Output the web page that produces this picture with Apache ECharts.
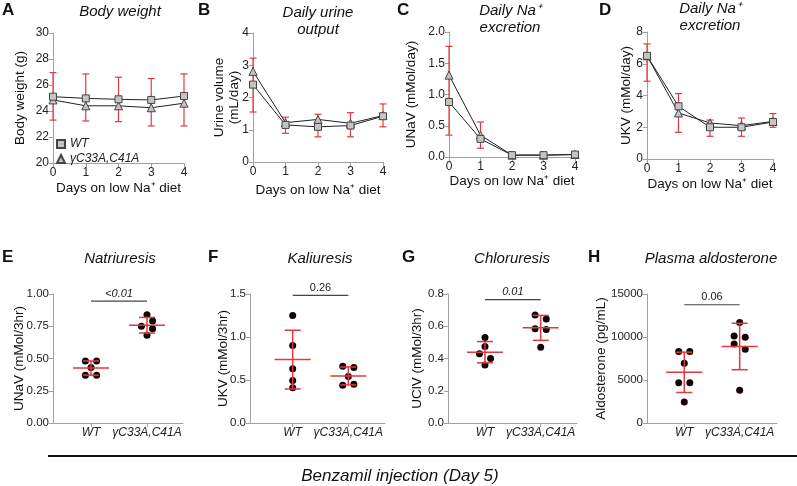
<!DOCTYPE html>
<html>
<head>
<meta charset="utf-8">
<script src="https://cdn.jsdelivr.net/npm/echarts@6/dist/echarts.min.js"></script>
<style>
html, body { margin: 0; padding: 0; background: #fff; }
#chart { width: 797px; height: 486px; }
</style>
</head>
<body>
<div id="chart"></div>
<script>
// ---- data ----
var days = [0, 1, 2, 3, 4];
var groups = ['WT', 'γC33A,C41A'];

// A: body weight (g)
var bwWT = [25.1, 24.97, 24.9, 24.85, 25.15];
var bwKI = [24.85, 24.4, 24.4, 24.25, 24.6];
var bwLo = [23.3, 23.23, 23.18, 22.85, 22.85];
var bwHi = [26.95, 26.85, 26.6, 26.5, 26.85];

// B: urine volume (mL/day)
var uvWT = [2.4, 1.15, 1.09, 1.13, 1.42];
var uvKI = [2.81, 1.22, 1.32, 1.2, 1.44];
var uvLo = [1.55, 0.89, 0.78, 0.78, 1.09];
var uvHi = [3.22, 1.39, 1.48, 1.53, 1.8];

// C: UNaV (mMol/day)
var naWT = [0.88, 0.29, 0.03, 0.03, 0.04];
var naKI = [1.31, 0.35, 0.03, 0.03, 0.04];
var naLo = [0.35, 0.14, null, null, null];
var naHi = [1.77, 0.56, null, null, null];

// D: UKV (mMol/day)
var kWT = [6.5, 3.32, 2.0, 2.0, 2.33];
var kKI = [6.5, 2.9, 2.27, 2.1, 2.37];
var kLo = [4.9, 1.68, 1.43, 1.43, 2.0];
var kHi = [7.25, 4.12, 2.45, 2.58, 2.86];

// E-H: individual animals after benzamil
var natWT = [0.48, 0.48, 0.43, 0.37, 0.37];
var natKI = [0.84, 0.75, 0.79, 0.73, 0.68];
var kalWT = [1.25, 0.90, 0.63, 0.495, 0.41];
var kalKI = [0.66, 0.645, 0.54, 0.44, 0.45];
var chlWT = [0.53, 0.475, 0.43, 0.40, 0.36];
var chlKI = [0.67, 0.645, 0.585, 0.58, 0.47];
var aldWT = [8300, 8300, 6935, 4675, 4675, 2455];
var aldKI = [11690, 10130, 9970, 9200, 8570, 3820];

// p values and bar heights
var sigText = ['<0.01', '0.26', '0.01', '0.06'];
var sigY = [0.945, 1.485, 0.765, 13750];

// ---- layout / style ----
var FONT = '"Liberation Sans", Arial, sans-serif';
var RED = '#e0393e';
var AXIS = '#a0a0a0';
var JIT = 0.1;
// horizontal scatter of dots (units of -1/0/1)
var jitE = [[-1, 1, 0, -1, 1], [0, -1, 1, 1, 0]];
var jitF = [[0, 0, 0, 0, 0], [-1, 1, 0, -1, 1]];
var jitG = [[0, 0, -1, 1, 0], [-1, 1, -1, 1, 0]];
var jitH = [[-1, 1, 0, -1, 1, 0], [0, -1, 1, -1, 1, 0]];

var grids = [
    { left: 53, top: 33, width: 131, height: 130 },
    { left: 253, top: 33, width: 130, height: 129 },
    { left: 449, top: 32, width: 126, height: 125 },
    { left: 647, top: 32, width: 126, height: 127 },
    { left: 53, top: 294, width: 130, height: 129 },
    { left: 250, top: 294, width: 135, height: 129 },
    { left: 448, top: 294, width: 129, height: 129 },
    { left: 647, top: 294, width: 130, height: 129 }
];

function axisBase(i, fs) {
    return {
        gridIndex: i,
        type: 'value',
        nameMoveOverlap: false,
        axisLine: { show: true, onZero: false, lineStyle: { color: AXIS, width: 1 } },
        axisTick: { show: true, length: 4, lineStyle: { color: AXIS } },
        axisLabel: { color: '#222', fontSize: fs, fontFamily: FONT, margin: 4 },
        splitLine: { show: false },
        nameTextStyle: { color: '#111', fontSize: 13.5, fontFamily: FONT, lineHeight: 15 }
    };
}

function dayAxis(i, gap) {
    var a = axisBase(i, 12);
    a.min = 0; a.max = 4; a.interval = 1;
    a.name = 'Days on low Na⁺ diet';
    a.nameLocation = 'middle';
    a.nameGap = gap;
    return a;
}

function groupAxis(i, min, max) {
    var a = axisBase(i, 12);
    a.min = min; a.max = max;
    a.axisTick.customValues = [1, 2];
    a.axisLabel.customValues = [1, 2];
    a.axisLabel.fontStyle = 'italic';
    a.axisLabel.formatter = function (v) { return groups[Math.round(v) - 1] || ''; };
    return a;
}

function valAxis(i, min, max, step, name, gap, dec, fs) {
    var a = axisBase(i, fs || 12);
    a.min = min; a.max = max; a.interval = step;
    a.name = name;
    a.nameLocation = 'middle';
    a.nameGap = gap;
    a.axisLabel.formatter = function (v) { return dec == null ? String(v) : v.toFixed(dec); };
    return a;
}

var xAxes = [
    dayAxis(0, 18), dayAxis(1, 21), dayAxis(2, 17), dayAxis(3, 18),
    groupAxis(4, 0.321, 2.643), groupAxis(5, 0.232, 2.66),
    groupAxis(6, 0.336, 2.652), groupAxis(7, 0.327, 2.674)
];
var yAxes = [
    valAxis(0, 20, 30, 2, 'Body weight (g)', 25),
    valAxis(1, 0, 4, 1, 'Urine volume\n(mL/day)', 11),
    valAxis(2, 0, 2, 0.5, 'UNaV (mMol/day)', 30, 1),
    valAxis(3, 0, 8, 2, 'UKV (mMol/day)', 13),
    valAxis(4, 0, 1, 0.25, 'UNaV (mMol/3hr)', 26, 2, 11.5),
    valAxis(5, 0, 1.5, 0.5, 'UKV (mMol/3hr)', 19, 1, 11.5),
    valAxis(6, 0, 0.8, 0.2, 'UClV (mMol/3hr)', 23, 1, 11.5),
    valAxis(7, 0, 15000, 5000, 'Aldosterone (pg/mL)', 38, null, 11.5)
];

// ---- renderers ----
function errItem(params, api) {
    var x = api.value(0);
    var lo = api.coord([x, api.value(1)]);
    var hi = api.coord([x, api.value(2)]);
    var w = 3.5;
    var st = { stroke: RED, lineWidth: 1.2 };
    return {
        type: 'group', children: [
            { type: 'line', shape: { x1: lo[0], y1: lo[1], x2: hi[0], y2: hi[1] }, style: st },
            { type: 'line', shape: { x1: lo[0] - w, y1: lo[1], x2: lo[0] + w, y2: lo[1] }, style: st },
            { type: 'line', shape: { x1: hi[0] - w, y1: hi[1], x2: hi[0] + w, y2: hi[1] }, style: st }
        ]
    };
}

function meanSdItem(params, api) {
    var x = api.value(0);
    var m = api.coord([x, api.value(1)]);
    var lo = api.coord([x, api.value(2)]);
    var hi = api.coord([x, api.value(3)]);
    var st = { stroke: RED, lineWidth: 1.5 };
    return {
        type: 'group', children: [
            { type: 'line', shape: { x1: lo[0], y1: lo[1], x2: hi[0], y2: hi[1] }, style: st },
            { type: 'line', shape: { x1: m[0] - 18, y1: m[1], x2: m[0] + 18, y2: m[1] }, style: st },
            { type: 'line', shape: { x1: lo[0] - 8, y1: lo[1], x2: lo[0] + 8, y2: lo[1] }, style: st },
            { type: 'line', shape: { x1: hi[0] - 8, y1: hi[1], x2: hi[0] + 8, y2: hi[1] }, style: st }
        ]
    };
}

function sigRender(text, italic) {
    return function (params, api) {
        var a = api.coord([api.value(0), api.value(2)]);
        var b = api.coord([api.value(1), api.value(2)]);
        return {
            type: 'group', children: [
                { type: 'line', shape: { x1: a[0], y1: a[1], x2: b[0], y2: b[1] },
                  style: { stroke: '#444', lineWidth: 1.2 } },
                { type: 'text', x: (a[0] + b[0]) / 2, y: a[1] - 2,
                  style: { text: text, fill: '#222', align: 'center', verticalAlign: 'bottom',
                           font: (italic ? 'italic ' : '') + '11px ' + FONT } }
            ]
        };
    };
}

function stats(arr) {
    var n = arr.length, m = 0, s = 0;
    arr.forEach(function (v) { m += v; });
    m /= n;
    arr.forEach(function (v) { s += (v - m) * (v - m); });
    var sd = Math.sqrt(s / (n - 1));
    return [m, m - sd, m + sd];
}

// ---- series ----
var series = [];

function timeCourse(i, wt, ki, lo, hi) {
    var err = [];
    days.forEach(function (d, j) {
        if (lo[j] != null) err.push([d, lo[j], hi[j]]);
    });
    series.push({
        type: 'custom', xAxisIndex: i, yAxisIndex: i, z: 1,
        renderItem: errItem, encode: { x: 0, y: [1, 2] }, data: err, silent: true
    });
    series.push({
        name: groups[1], type: 'line', xAxisIndex: i, yAxisIndex: i, z: 2,
        symbol: 'triangle', symbolSize: 8,
        lineStyle: { color: '#222', width: 1 },
        itemStyle: { color: '#c4c4c4', borderColor: '#444', borderWidth: 1 },
        data: days.map(function (d, j) { return [d, ki[j]]; })
    });
    series.push({
        name: groups[0], type: 'line', xAxisIndex: i, yAxisIndex: i, z: 3,
        symbol: 'rect', symbolSize: 7,
        lineStyle: { color: '#222', width: 1 },
        itemStyle: { color: '#c4c4c4', borderColor: '#444', borderWidth: 1 },
        data: days.map(function (d, j) { return [d, wt[j]]; })
    });
}

function dotPlot(i, wt, ki, jit, k) {
    var dots = [];
    [wt, ki].forEach(function (arr, g) {
        arr.forEach(function (v, j) { dots.push([g + 1 + jit[g][j] * JIT, v]); });
    });
    series.push({
        name: 'dots' + i, type: 'scatter', xAxisIndex: i, yAxisIndex: i, z: 2,
        symbolSize: 7, itemStyle: { color: '#120404', opacity: 1 }, data: dots
    });
    series.push({
        type: 'custom', xAxisIndex: i, yAxisIndex: i, z: 3, silent: true,
        renderItem: meanSdItem, encode: { x: 0, y: [1, 2, 3] },
        data: [[1].concat(stats(wt)), [2].concat(stats(ki))]
    });
    series.push({
        type: 'custom', xAxisIndex: i, yAxisIndex: i, z: 3, silent: true,
        renderItem: sigRender(sigText[k], k === 0 || k === 2),
        encode: { x: [0, 1], y: 2 },
        data: [[1, 2, sigY[k]]]
    });
}

timeCourse(0, bwWT, bwKI, bwLo, bwHi);
timeCourse(1, uvWT, uvKI, uvLo, uvHi);
timeCourse(2, naWT, naKI, naLo, naHi);
timeCourse(3, kWT, kKI, kLo, kHi);
dotPlot(4, natWT, natKI, jitE, 0);
dotPlot(5, kalWT, kalKI, jitF, 1);
dotPlot(6, chlWT, chlKI, jitG, 2);
dotPlot(7, aldWT, aldKI, jitH, 3);

// ---- text decorations ----
function txt(s, x, y, font, align) {
    return {
        type: 'text', x: x, y: y, silent: true,
        style: { text: s, fill: '#111', font: font, align: align || 'left', textAlign: align || 'left',
                 verticalAlign: 'top', textVerticalAlign: 'top', lineHeight: 17 }
    };
}
var letterFont = 'bold 17px ' + FONT;
var titleFont = 'italic 15px ' + FONT;

var graphics = [
    txt('A', 2, 2, letterFont), txt('B', 198, 2, letterFont),
    txt('C', 397, 2, letterFont), txt('D', 599, 2, letterFont),
    txt('E', 2, 249, letterFont), txt('F', 208, 249, letterFont),
    txt('G', 402, 249, letterFont), txt('H', 588, 249, letterFont),
    txt('Body weight', 120, 3, titleFont, 'center'),
    txt('Daily urine\noutput', 318, 4, titleFont, 'center'),
    txt('Daily Na⁺\nexcretion', 510, 2, titleFont, 'center'),
    txt('Daily Na⁺\nexcretion', 710, 0, titleFont, 'center'),
    txt('Natriuresis', 120, 250, titleFont, 'center'),
    txt('Kaliuresis', 320, 250, titleFont, 'center'),
    txt('Chloruresis', 512, 250, titleFont, 'center'),
    txt('Plasma aldosterone', 711, 250, titleFont, 'center'),
    { type: 'line', silent: true, shape: { x1: 48, y1: 456, x2: 797, y2: 456 },
      style: { stroke: '#111', lineWidth: 2 } },
    txt('Benzamil injection (Day 5)', 400, 468, 'italic 17px ' + FONT, 'center')
];

var myChart = echarts.init(document.getElementById('chart'));
var options = {
    animation: false,
    backgroundColor: '#fff',
    textStyle: { fontFamily: FONT },
    grid: grids,
    xAxis: xAxes,
    yAxis: yAxes,
    legend: {
        left: 56, top: 138, orient: 'vertical', padding: 0, itemGap: 3,
        itemWidth: 8, itemHeight: 8, selectedMode: false,
        textStyle: { fontStyle: 'italic', fontSize: 12, color: '#222', fontFamily: FONT },
        data: [{ name: groups[0], icon: 'rect' }, { name: groups[1], icon: 'triangle' }]
    },
    graphic: graphics,
    series: series
};
myChart.setOption(options);
</script>
</body>
</html>
